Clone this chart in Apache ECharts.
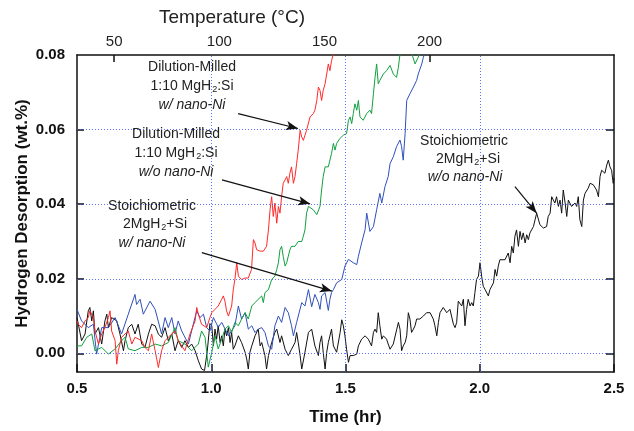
<!DOCTYPE html>
<html><head><meta charset="utf-8">
<script src="https://cdn.jsdelivr.net/npm/echarts@6/dist/echarts.min.js"></script>
<style>html,body{margin:0;padding:0;background:#fff}#c{width:634px;height:431px}</style>
</head><body><div id="c"></div>
<script>
// ---- axis ticks / ranges ----
const timeTicks = [0.5, 1.0, 1.5, 2.0, 2.5];
const yTicks = [0.00, 0.02, 0.04, 0.06, 0.08];
const yInnerTicks = [0.00, 0.02, 0.04, 0.06];
const tempLabels = [50, 100, 150, 200];
const tempTickMarks = [50, 200];
const gridX = [1.0, 1.5, 2.0];
const gridY = [0.00, 0.02, 0.04, 0.06];
const timeRange = [0.5, 2.5];
const yRange = [-0.005, 0.08];
const tempRange = [32.3, 287.7];

// ---- series: [time (hr), desorption (wt.%)] ----
const red = [[0.500,0.0087],[0.505,0.0078],[0.517,0.0069],[0.530,0.0087],[0.542,0.0096],[0.548,0.0114],[0.561,0.0096],[0.567,0.0060],[0.580,0.0025],[0.592,0.0052],[0.604,0.0069],[0.617,0.0096],[0.623,0.0114],[0.629,0.0060],[0.642,0.0034],[0.648,-0.0029],[0.654,0.0007],[0.666,0.0043],[0.679,0.0052],[0.691,0.0060],[0.704,0.0025],[0.716,0.0043],[0.741,0.0034],[0.753,0.0016],[0.766,0.0007],[0.778,0.0052],[0.791,0.0007],[0.803,-0.0038],[0.815,0.0007],[0.828,0.0034],[0.840,0.0043],[0.865,0.0060],[0.877,0.0034],[0.902,0.0007],[0.921,0.0052],[0.940,0.0087],[0.946,0.0123],[0.952,0.0105],[0.964,0.0078],[0.983,0.0069],[0.995,0.0096],[1.002,0.0109],[1.014,0.0118],[1.026,0.0127],[1.039,0.0145],[1.045,0.0154],[1.051,0.0140],[1.057,0.0114],[1.064,0.0100],[1.076,0.0127],[1.082,0.0171],[1.088,0.0198],[1.095,0.0243],[1.101,0.0207],[1.113,0.0198],[1.126,0.0202],[1.138,0.0202],[1.150,0.0225],[1.157,0.0305],[1.163,0.0296],[1.169,0.0278],[1.182,0.0274],[1.194,0.0274],[1.206,0.0287],[1.213,0.0331],[1.219,0.0385],[1.225,0.0420],[1.231,0.0367],[1.237,0.0403],[1.244,0.0349],[1.250,0.0394],[1.256,0.0376],[1.262,0.0420],[1.268,0.0456],[1.275,0.0465],[1.281,0.0474],[1.287,0.0456],[1.293,0.0483],[1.299,0.0500],[1.306,0.0456],[1.312,0.0474],[1.318,0.0509],[1.324,0.0545],[1.331,0.0598],[1.337,0.0580],[1.343,0.0571],[1.349,0.0585],[1.355,0.0598],[1.368,0.0634],[1.380,0.0643],[1.386,0.0652],[1.393,0.0678],[1.399,0.0714],[1.405,0.0705],[1.411,0.0678],[1.417,0.0705],[1.424,0.0723],[1.430,0.0749],[1.436,0.0776],[1.442,0.0758],[1.448,0.0785],[1.455,0.0803],[1.461,0.0820]];

const green = [[0.500,0.0020],[0.517,0.0020],[0.536,0.0043],[0.555,0.0052],[0.567,0.0007],[0.592,0.0016],[0.617,-0.0002],[0.642,0.0012],[0.666,0.0034],[0.679,0.0043],[0.691,0.0012],[0.716,0.0007],[0.741,0.0016],[0.766,0.0016],[0.791,0.0025],[0.815,0.0020],[0.840,0.0029],[0.865,0.0069],[0.877,0.0034],[0.902,0.0025],[0.927,0.0007],[0.952,0.0025],[0.964,0.0060],[0.977,0.0043],[0.989,-0.0037],[0.995,-0.0042],[1.002,0.0003],[1.014,0.0047],[1.026,0.0012],[1.039,0.0038],[1.051,0.0065],[1.064,0.0074],[1.076,0.0056],[1.088,0.0083],[1.101,0.0074],[1.113,0.0092],[1.126,0.0109],[1.138,0.0092],[1.151,0.0127],[1.163,0.0136],[1.175,0.0145],[1.188,0.0154],[1.194,0.0136],[1.200,0.0163],[1.213,0.0171],[1.225,0.0198],[1.237,0.0207],[1.244,0.0225],[1.250,0.0243],[1.256,0.0278],[1.262,0.0287],[1.268,0.0260],[1.275,0.0234],[1.281,0.0243],[1.293,0.0278],[1.299,0.0287],[1.312,0.0287],[1.324,0.0300],[1.337,0.0300],[1.343,0.0314],[1.349,0.0331],[1.355,0.0376],[1.362,0.0394],[1.368,0.0398],[1.380,0.0385],[1.393,0.0372],[1.399,0.0376],[1.405,0.0394],[1.411,0.0438],[1.417,0.0474],[1.424,0.0500],[1.436,0.0500],[1.442,0.0505],[1.448,0.0536],[1.455,0.0563],[1.461,0.0545],[1.467,0.0563],[1.479,0.0576],[1.492,0.0585],[1.504,0.0589],[1.511,0.0625],[1.517,0.0634],[1.523,0.0616],[1.529,0.0643],[1.535,0.0669],[1.542,0.0652],[1.548,0.0678],[1.554,0.0634],[1.566,0.0625],[1.579,0.0643],[1.591,0.0652],[1.597,0.0643],[1.604,0.0696],[1.610,0.0740],[1.616,0.0776],[1.622,0.0723],[1.628,0.0732],[1.641,0.0749],[1.653,0.0758],[1.666,0.0772],[1.678,0.0749],[1.690,0.0740],[1.697,0.0767],[1.703,0.0803],[1.709,0.0820],[1.740,0.0820],[1.759,0.0776],[1.771,0.0794],[1.784,0.0830]];

const blue = [[0.500,0.0118],[0.517,0.0087],[0.542,0.0069],[0.561,0.0078],[0.573,-0.0002],[0.592,0.0069],[0.617,0.0069],[0.642,0.0096],[0.666,0.0052],[0.691,0.0105],[0.716,0.0158],[0.722,0.0131],[0.735,0.0145],[0.747,0.0105],[0.772,0.0140],[0.791,0.0118],[0.815,0.0052],[0.828,0.0096],[0.840,0.0069],[0.853,0.0096],[0.865,0.0052],[0.877,0.0087],[0.890,0.0060],[0.915,0.0025],[0.933,0.0078],[0.946,0.0114],[0.958,0.0096],[0.971,0.0105],[0.983,0.0069],[0.995,0.0060],[1.008,0.0096],[1.026,0.0070],[1.039,0.0083],[1.064,0.0047],[1.088,0.0074],[1.101,0.0127],[1.113,0.0092],[1.126,0.0109],[1.138,0.0065],[1.151,0.0074],[1.163,0.0056],[1.175,0.0065],[1.188,0.0069],[1.200,0.0056],[1.213,0.0020],[1.225,0.0011],[1.237,0.0074],[1.250,0.0100],[1.262,0.0083],[1.275,0.0123],[1.287,0.0109],[1.299,0.0074],[1.306,0.0047],[1.318,0.0083],[1.337,0.0136],[1.349,0.0127],[1.362,0.0171],[1.374,0.0125],[1.386,0.0158],[1.399,0.0136],[1.405,0.0118],[1.411,0.0154],[1.424,0.0163],[1.436,0.0115],[1.442,0.0145],[1.448,0.0163],[1.455,0.0171],[1.467,0.0189],[1.486,0.0198],[1.498,0.0234],[1.511,0.0252],[1.529,0.0243],[1.542,0.0238],[1.548,0.0260],[1.560,0.0296],[1.573,0.0332],[1.579,0.0376],[1.591,0.0327],[1.604,0.0340],[1.616,0.0385],[1.628,0.0429],[1.635,0.0403],[1.647,0.0447],[1.659,0.0474],[1.666,0.0509],[1.678,0.0527],[1.690,0.0554],[1.703,0.0572],[1.709,0.0554],[1.715,0.0518],[1.722,0.0589],[1.728,0.0678],[1.740,0.0696],[1.753,0.0714],[1.765,0.0732],[1.771,0.0749],[1.784,0.0776],[1.790,0.0794],[1.802,0.0820]];

const black = [[0.500,0.0096],[0.505,0.0078],[0.517,0.0034],[0.530,0.0052],[0.542,0.0114],[0.548,0.0123],[0.555,0.0087],[0.561,0.0114],[0.567,0.0052],[0.580,0.0069],[0.592,0.0025],[0.604,0.0087],[0.611,0.0105],[0.617,0.0069],[0.629,0.0096],[0.648,0.0087],[0.660,0.0052],[0.673,0.0007],[0.679,0.0034],[0.691,0.0069],[0.704,0.0078],[0.716,0.0052],[0.728,0.0078],[0.741,0.0025],[0.753,0.0016],[0.766,0.0052],[0.778,0.0078],[0.791,0.0074],[0.803,0.0052],[0.815,0.0043],[0.828,0.0069],[0.840,0.0034],[0.853,0.0052],[0.865,0.0007],[0.877,0.0034],[0.890,0.0016],[0.902,0.0034],[0.915,0.0016],[0.927,0.0025],[0.940,0.0007],[0.952,-0.0020],[0.964,-0.0042],[0.975,-0.0046],[0.985,0.0005],[0.995,0.0080],[1.002,0.0074],[1.008,0.0020],[1.014,0.0065],[1.020,0.0038],[1.026,0.0074],[1.033,0.0029],[1.039,0.0047],[1.045,0.0020],[1.051,0.0065],[1.057,0.0047],[1.064,0.0069],[1.070,0.0029],[1.076,0.0056],[1.082,0.0011],[1.088,0.0020],[1.101,0.0047],[1.113,0.0029],[1.126,0.0003],[1.132,-0.0015],[1.138,-0.0042],[1.144,0.0003],[1.151,0.0020],[1.163,0.0047],[1.175,0.0065],[1.182,0.0020],[1.188,0.0029],[1.200,-0.0006],[1.206,-0.0042],[1.213,-0.0006],[1.225,0.0029],[1.237,0.0056],[1.244,0.0065],[1.256,0.0029],[1.262,0.0047],[1.275,0.0011],[1.287,-0.0006],[1.299,0.0011],[1.312,0.0029],[1.318,0.0056],[1.324,0.0029],[1.331,-0.0006],[1.337,-0.0042],[1.349,0.0003],[1.362,0.0056],[1.374,0.0065],[1.386,0.0020],[1.399,-0.0006],[1.405,0.0029],[1.411,0.0047],[1.417,0.0003],[1.424,-0.0042],[1.430,0.0003],[1.436,0.0029],[1.448,0.0065],[1.455,0.0020],[1.467,0.0003],[1.480,0.0056],[1.486,0.0090],[1.492,0.0074],[1.498,0.0047],[1.504,0.0011],[1.511,-0.0024],[1.517,-0.0006],[1.529,-0.0006],[1.542,-0.0002],[1.548,0.0020],[1.560,0.0038],[1.573,0.0047],[1.585,0.0038],[1.591,0.0029],[1.597,0.0020],[1.604,0.0056],[1.610,0.0065],[1.616,0.0056],[1.622,0.0109],[1.628,0.0074],[1.635,0.0038],[1.641,0.0047],[1.653,0.0038],[1.659,0.0025],[1.666,0.0011],[1.678,0.0025],[1.691,0.0065],[1.697,0.0083],[1.703,0.0065],[1.709,0.0007],[1.715,0.0020],[1.722,0.0029],[1.728,0.0047],[1.734,0.0109],[1.740,0.0092],[1.746,0.0056],[1.753,0.0065],[1.759,0.0074],[1.765,0.0092],[1.777,0.0092],[1.790,0.0100],[1.802,0.0109],[1.815,0.0109],[1.827,0.0092],[1.833,0.0074],[1.840,0.0047],[1.846,0.0083],[1.852,0.0109],[1.864,0.0123],[1.877,0.0109],[1.889,0.0118],[1.902,0.0078],[1.908,0.0069],[1.914,0.0083],[1.920,0.0140],[1.926,0.0145],[1.933,0.0127],[1.939,0.0145],[1.945,0.0074],[1.951,0.0118],[1.957,0.0145],[1.964,0.0127],[1.970,0.0136],[1.976,0.0127],[1.982,0.0163],[1.988,0.0198],[1.995,0.0207],[2.001,0.0243],[2.007,0.0207],[2.013,0.0180],[2.020,0.0171],[2.032,0.0154],[2.038,0.0171],[2.051,0.0189],[2.057,0.0225],[2.063,0.0207],[2.069,0.0234],[2.075,0.0251],[2.082,0.0256],[2.094,0.0251],[2.106,0.0269],[2.113,0.0243],[2.119,0.0287],[2.125,0.0269],[2.131,0.0314],[2.137,0.0331],[2.144,0.0287],[2.150,0.0327],[2.156,0.0305],[2.162,0.0323],[2.169,0.0296],[2.175,0.0318],[2.181,0.0305],[2.187,0.0323],[2.193,0.0331],[2.200,0.0340],[2.206,0.0358],[2.212,0.0376],[2.224,0.0345],[2.237,0.0336],[2.249,0.0340],[2.255,0.0367],[2.262,0.0376],[2.268,0.0420],[2.274,0.0411],[2.280,0.0403],[2.286,0.0420],[2.293,0.0394],[2.299,0.0411],[2.305,0.0376],[2.311,0.0438],[2.318,0.0403],[2.324,0.0367],[2.330,0.0411],[2.342,0.0394],[2.355,0.0403],[2.361,0.0394],[2.367,0.0420],[2.373,0.0358],[2.380,0.0340],[2.386,0.0411],[2.392,0.0429],[2.404,0.0443],[2.411,0.0456],[2.423,0.0452],[2.435,0.0438],[2.442,0.0420],[2.448,0.0474],[2.454,0.0491],[2.466,0.0483],[2.473,0.0505],[2.479,0.0518],[2.485,0.0500],[2.491,0.0491],[2.497,0.0456],[2.500,0.0470]];

// ---- annotation arrows: [from, to] in data coords ----
const arrows = [
  [[1.100, 0.0643], [1.323, 0.0603]],
  [[1.040, 0.0465], [1.368, 0.0401]],
  [[0.965, 0.0270], [1.449, 0.0167]],
  [[2.131, 0.0447], [2.212, 0.0376]]
];

const FONT = 'Arial, "Liberation Sans", sans-serif';
const TXT = '#222';

function lbl(x, y, text, italic) {
  return { type: 'text', x: x, y: y, z: 10,
    style: { text: text, x: 0, y: 0, align: 'center', verticalAlign: 'middle',
      font: (italic ? 'italic ' : '') + '14px ' + FONT, fill: TXT } };
}
function rich(x, y, a, b, c) {
  return { type: 'text', x: x, y: y, z: 10,
    style: { text: '{a|' + a + '}{s|' + b + '}{a|' + c + '}', x: 0, y: 0, align: 'center', verticalAlign: 'middle',
      rich: { a: { fontSize: 14, fontFamily: FONT, fill: TXT, color: TXT },
              s: { fontSize: 9, fontFamily: FONT, fill: TXT, color: TXT, padding: [7, 0, 0, 1] } } } };
}

const chart = echarts.init(document.getElementById('c'), null, { renderer: 'canvas' });
const axisTxt = { fontFamily: FONT, color: '#111' };
const gridLine = { color: '#3d5cff', type: [1, 2], width: 1, opacity: 0.85 };

chart.setOption({
  animation: false,
  backgroundColor: '#fff',
  grid: { left: 77, right: 20, top: 55, bottom: 58, containLabel: false },
  xAxis: [
    { type: 'value', min: timeRange[0], max: timeRange[1], interval: 0.5, position: 'bottom',
      name: 'Time (hr)', nameLocation: 'middle', nameGap: 37, nameMoveOverlap: false,
      nameTextStyle: { fontFamily: FONT, fontSize: 17, fontWeight: 'bold', color: '#111' },
      axisLine: { onZero: false, lineStyle: { color: '#111', width: 1.5 } },
      axisTick: { inside: true, length: 8, lineStyle: { color: '#111', width: 1.5 } },
      axisLabel: Object.assign({ fontSize: 15, fontWeight: 'bold', margin: 9,
        customValues: timeTicks, formatter: v => v.toFixed(1) }, axisTxt),
      splitLine: { show: false } },
    { type: 'value', min: tempRange[0], max: tempRange[1], position: 'top',
      axisLine: { onZero: false, lineStyle: { color: '#111', width: 1.5 } },
      axisTick: { inside: true, length: 7, customValues: tempTickMarks, lineStyle: { color: '#111', width: 1.5 } },
      axisLabel: { fontFamily: FONT, fontSize: 15, color: '#222', margin: 6, customValues: tempLabels },
      splitLine: { show: false } }
  ],
  yAxis: [
    { type: 'value', min: yRange[0], max: yRange[1], position: 'left',
      name: 'Hydrogen Desorption (wt.%)', nameLocation: 'middle', nameGap: 46, nameMoveOverlap: false,
      nameTextStyle: { fontFamily: FONT, fontSize: 17, fontWeight: 'bold', color: '#111' },
      axisLine: { onZero: false, lineStyle: { color: '#111', width: 1.5 } },
      axisTick: { inside: true, length: 7, customValues: yInnerTicks, lineStyle: { color: '#111', width: 1.5 } },
      axisLabel: Object.assign({ fontSize: 15, fontWeight: 'bold', margin: 12,
        customValues: yTicks, formatter: v => v.toFixed(2) }, axisTxt),
      splitLine: { show: false } },
    { type: 'value', min: yRange[0], max: yRange[1], position: 'right',
      axisLine: { onZero: false, lineStyle: { color: '#111', width: 1.5 } },
      axisTick: { inside: true, length: 8, customValues: yInnerTicks, lineStyle: { color: '#111', width: 1.5 } },
      axisLabel: { show: false },
      splitLine: { show: false } }
  ],
  graphic: [
    { type: 'text', x: 232, y: 18, style: { text: 'Temperature (°C)', x: 0, y: 0, align: 'center', verticalAlign: 'middle',
      font: '19px ' + FONT, fill: '#222' } },
    lbl(192, 67, 'Dilution-Milled'), rich(192, 86, '1:10 MgH', '2', ':Si'), lbl(192, 105, 'w/ nano-Ni', true),
    lbl(176, 134, 'Dilution-Milled'), rich(176, 153, '1:10 MgH', '2', ':Si'), lbl(176, 172, 'w/o nano-Ni', true),
    lbl(152, 206, 'Stoichiometric'), rich(155, 224, '2MgH', '2', '+Si'), lbl(152, 243, 'w/ nano-Ni', true),
    lbl(464, 141, 'Stoichiometric'), rich(468, 159, '2MgH', '2', '+Si'), lbl(465, 177, 'w/o nano-Ni', true)
  ],
  series: [
    { type: 'line', name: 'grid', data: [], z: 1, silent: true,
      markLine: { silent: true, symbol: 'none', animation: false, label: { show: false },
        lineStyle: gridLine,
        data: gridY.map(v => ({ yAxis: v, lineStyle: gridLine })).concat(gridX.map(v => ({ xAxis: v, lineStyle: gridLine }))) } },
    { type: 'line', name: 'Stoichiometric w/o nano-Ni', data: black, showSymbol: false, z: 3,
      lineStyle: { color: '#111', width: 1 }, itemStyle: { color: '#111' } },
    { type: 'line', name: 'Stoichiometric w/ nano-Ni', data: blue, showSymbol: false, z: 4,
      lineStyle: { color: '#3050bb', width: 1 }, itemStyle: { color: '#3050bb' } },
    { type: 'line', name: 'Dilution w/o nano-Ni', data: green, showSymbol: false, z: 4,
      lineStyle: { color: '#12a040', width: 1 }, itemStyle: { color: '#12a040' } },
    { type: 'line', name: 'Dilution w/ nano-Ni', data: red, showSymbol: false, z: 4,
      lineStyle: { color: '#ff2a2a', width: 1 }, itemStyle: { color: '#ff2a2a' } },
    { type: 'line', name: 'arrows', data: [], z: 6, silent: true,
      markLine: { silent: true, symbol: ['none', 'arrow'], symbolSize: [7, 12], animation: false,
        label: { show: false }, lineStyle: { color: '#111', width: 1.2, type: 'solid' },
        data: arrows.map(a => [{ coord: a[0] }, { coord: a[1] }]) } }
  ]
});
</script></body></html>
